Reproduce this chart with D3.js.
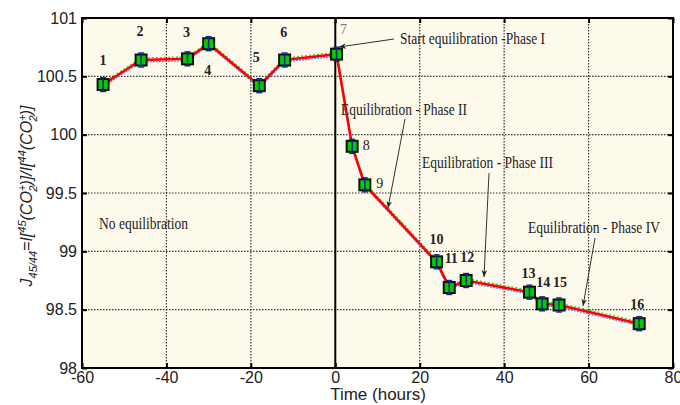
<!DOCTYPE html>
<html>
<head>
<meta charset="utf-8">
<script src="https://cdn.jsdelivr.net/npm/d3@7"></script>
<style>
body { margin: 0; background: #fff; }
</style>
</head>
<body>
<svg id="chart" width="680" height="405"></svg>
<script>
// sample times (hours) and J45/44 values
var times = [-55, -46, -35, -30, -18, -12, 0.3, 4, 7, 24, 27, 31, 46, 49, 53, 72];
var values = [100.43, 100.64, 100.65, 100.78, 100.42, 100.64, 100.69, 99.90, 99.57, 98.91, 98.69, 98.75, 98.65, 98.55, 98.54, 98.38];
var pointNames = ["1","2","3","4","5","6","7","8","9","10","11","12","13","14","15","16"];
var xTicks = [-60, -40, -20, 0, 20, 40, 60, 80];
var yTicks = [98, 98.5, 99, 99.5, 100, 100.5, 101];

var svg = d3.select("#chart");
var pLeft = 82, pRight = 673, pTop = 18, pBottom = 368;

var x = d3.scaleLinear().domain([-60, 80]).range([pLeft, pRight]);
var y = d3.scaleLinear().domain([98, 101]).range([pBottom, pTop]);

// plot background
svg.append("rect")
.attr("x", pLeft).attr("y", pTop)
.attr("width", pRight - pLeft).attr("height", pBottom - pTop)
.style("fill", "#fdfaec");

// dotted grid
xTicks.slice(1, -1).forEach(function (t) {
	if (t === 0) return;
	svg.append("line")
	.attr("x1", x(t)).attr("x2", x(t))
	.attr("y1", pTop).attr("y2", pBottom)
	.style("stroke", "#333").style("stroke-width", 1.2)
	.style("stroke-dasharray", "1.5,1.5");
});
yTicks.slice(1, -1).forEach(function (t) {
	svg.append("line")
	.attr("x1", pLeft).attr("x2", pRight)
	.attr("y1", y(t)).attr("y2", y(t))
	.style("stroke", "#333").style("stroke-width", 1.2)
	.style("stroke-dasharray", "1.5,1.5");
});

// solid line at t = 0
svg.append("line")
.attr("x1", x(0)).attr("x2", x(0))
.attr("y1", pTop).attr("y2", pBottom)
.style("stroke", "#000").style("stroke-width", 2);

// axes (plain hyphen minus like the original)
var plain = function (d) { return String(d); };
var xAxis = d3.axisBottom(x).tickValues(xTicks).tickSizeInner(-5).tickSizeOuter(0).tickPadding(4).tickFormat(plain);
var yAxis = d3.axisLeft(y).tickValues(yTicks).tickSizeInner(-5).tickSizeOuter(0).tickPadding(5).tickFormat(plain);

var gx = svg.append("g").attr("transform", "translate(0," + pBottom + ")").call(xAxis);
var gy = svg.append("g").attr("transform", "translate(" + pLeft + ",0)").call(yAxis);
[gx, gy].forEach(function (g) {
	g.select(".domain").remove();
	g.selectAll("line").style("stroke", "#000").style("stroke-width", 2);
	g.selectAll("text").style("font-family", "Arial, 'Liberation Sans', sans-serif")
	.style("font-size", "16px").style("fill", "#222");
});
// right and top inward ticks
svg.append("g").attr("transform", "translate(" + pRight + ",0)")
.call(d3.axisRight(y).tickValues(yTicks).tickSizeInner(-5).tickSizeOuter(0).tickFormat(""))
.call(function (g) { g.select(".domain").remove(); g.selectAll("line").style("stroke", "#000").style("stroke-width", 2); });
svg.append("g").attr("transform", "translate(0," + pTop + ")")
.call(d3.axisTop(x).tickValues(xTicks).tickSizeInner(-5).tickSizeOuter(0).tickFormat(""))
.call(function (g) { g.select(".domain").remove(); g.selectAll("line").style("stroke", "#000").style("stroke-width", 2); });

// frame
svg.append("rect")
.attr("x", pLeft).attr("y", pTop)
.attr("width", pRight - pLeft).attr("height", pBottom - pTop)
.style("fill", "none").style("stroke", "#000").style("stroke-width", 2);

// data lines
var pts = times.map(function (t, i) { return [t, values[i]]; });
var line = d3.line().x(function (d) { return x(d[0]); }).y(function (d) { return y(d[1]); });

svg.append("path").datum(pts).attr("d", line)
.attr("transform", "translate(0,-2)")
.style("fill", "none").style("stroke", "#3c3").style("stroke-width", 1.2)
.style("stroke-dasharray", "2,2");
svg.append("path").datum(pts).attr("d", line)
.attr("transform", "translate(0,2)")
.style("fill", "none").style("stroke", "#58f").style("stroke-width", 1.2)
.style("stroke-dasharray", "2,1");
svg.append("path").datum(pts).attr("d", line)
.style("fill", "none").style("stroke", "#f00").style("stroke-width", 2.6);

// markers with small error bars
pts.forEach(function (d) {
	var cx = x(d[0]), cy = y(d[1]);
	svg.append("rect")
	.attr("x", cx - 5.5).attr("y", cy - 5.5)
	.attr("width", 11).attr("height", 11)
	.style("fill", "#0c0").style("stroke", "#111").style("stroke-width", 2);
	svg.append("line")
	.attr("x1", cx).attr("x2", cx).attr("y1", cy - 7).attr("y2", cy + 7)
	.style("stroke", "#0a2a8a").style("stroke-width", 1.6);
	[-7, 7].forEach(function (o) {
		svg.append("line")
		.attr("x1", cx - 3).attr("x2", cx + 3).attr("y1", cy + o).attr("y2", cy + o)
		.style("stroke", "#0a2a8a").style("stroke-width", 1.4);
	});
});

// point numbers
var labelOffsets = [[0, -20], [-1, -24], [-1, -22], [-1, 31], [-3, -24], [-1, -23], [7, -20],
	[14, 4], [15, 3], [0, -18], [2, -25], [1, -19], [-1, -14], [1, -17], [1, -18], [-2, -15]];
var plainLabels = ["7", "8", "9"];
pointNames.forEach(function (n, i) {
	var isPlain = plainLabels.indexOf(n) >= 0;
	svg.append("text")
	.text(n)
	.attr("x", x(times[i]) + labelOffsets[i][0])
	.attr("y", y(values[i]) + labelOffsets[i][1])
	.attr("text-anchor", "middle")
	.style("font-family", "'Liberation Serif', 'Times New Roman', serif")
	.style("font-weight", isPlain ? "normal" : "bold")
	.style("font-size", "14px")
	.style("fill", n === "7" ? "#777" : "#222");
});

// annotations (the original face is narrow, so fit each to its measured width)
var serif = "'Liberation Serif', 'Times New Roman', serif";
var notes = [
	{ text: "Start equilibration -Phase I", tx: 400, ty: 44, w: 145, from: [394, 39], to: [339, 47] },
	{ text: "Equilibration - Phase II", tx: 341, ty: 115, w: 126, from: [405, 119], to: [388, 208] },
	{ text: "Equilibration - Phase III", tx: 422, ty: 168, w: 131, from: [489, 173], to: [484, 277] },
	{ text: "Equilibration - Phase IV", tx: 528, ty: 233, w: 132, from: [595, 238], to: [583, 306] },
	{ text: "No equilibration", tx: 99, ty: 229, w: 89 }
];
svg.append("defs").append("marker")
.attr("id", "arr").attr("viewBox", "0 0 10 10")
.attr("refX", 10).attr("refY", 5)
.attr("markerWidth", 7).attr("markerHeight", 7)
.attr("orient", "auto")
.append("path").attr("d", "M0,1 L10,5 L0,9 L3,5 Z").style("fill", "#222");

notes.forEach(function (n) {
	if (n.from) {
		svg.append("line")
		.attr("x1", n.from[0]).attr("y1", n.from[1])
		.attr("x2", n.to[0]).attr("y2", n.to[1])
		.attr("marker-end", "url(#arr)")
		.style("stroke", "#333").style("stroke-width", 1);
	}
	svg.append("text")
	.text(n.text)
	.attr("x", n.tx).attr("y", n.ty)
	.attr("textLength", n.w).attr("lengthAdjust", "spacingAndGlyphs")
	.style("font-family", serif).style("font-size", "16px").style("fill", "#222");
});

// axis titles
svg.append("text")
.text("Time (hours)")
.attr("x", 378).attr("y", 400)
.attr("text-anchor", "middle")
.style("font-family", "Arial, 'Liberation Sans', sans-serif")
.style("font-size", "17px").style("fill", "#222");

var ylab = svg.append("text")
.attr("transform", "translate(32,196) rotate(-90)")
.attr("text-anchor", "middle")
.style("font-family", "Arial, 'Liberation Sans', sans-serif")
.style("font-style", "italic")
.style("font-size", "16px").style("fill", "#222");
ylab.append("tspan").text("J");
ylab.append("tspan").text("45/44").attr("dy", 5).style("font-size", "11px");
ylab.append("tspan").text("=I[").attr("dy", -5);
ylab.append("tspan").text("45").attr("dy", -6).style("font-size", "11px");
ylab.append("tspan").text("(CO").attr("dy", 6);
ylab.append("tspan").text("+").attr("dy", -6).style("font-size", "11px");
ylab.append("tspan").text("2").attr("dx", -7).attr("dy", 11).style("font-size", "11px");
ylab.append("tspan").text(")]/I[").attr("dy", -5);
ylab.append("tspan").text("44").attr("dy", -6).style("font-size", "11px");
ylab.append("tspan").text("(CO").attr("dy", 6);
ylab.append("tspan").text("+").attr("dy", -6).style("font-size", "11px");
ylab.append("tspan").text("2").attr("dx", -7).attr("dy", 11).style("font-size", "11px");
ylab.append("tspan").text(")]").attr("dy", -5);
</script>
</body>
</html>
